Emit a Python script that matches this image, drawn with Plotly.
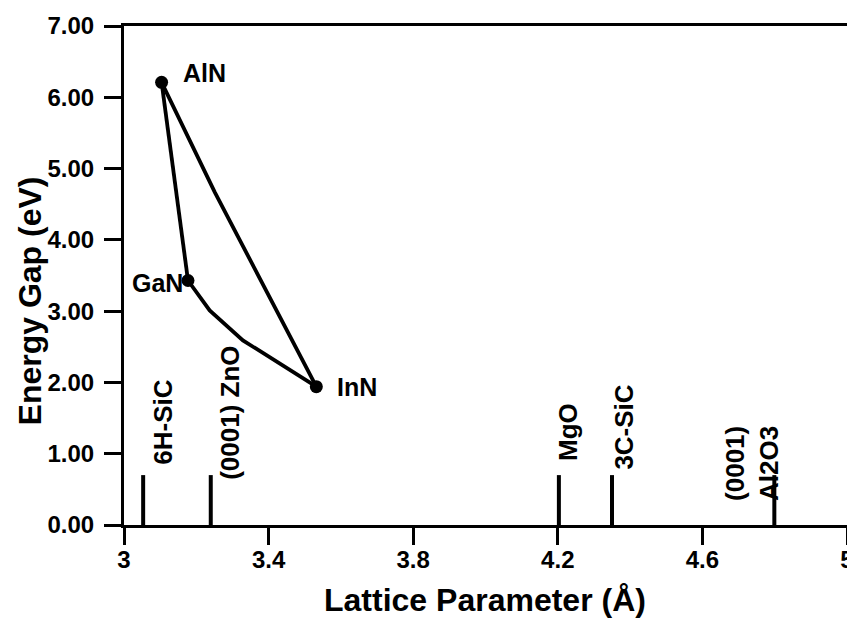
import plotly.graph_objects as go

# ---- data ----
compounds = ["AlN", "GaN", "InN"]
lattice_a = [3.104, 3.177, 3.532]
energy_gap = [6.21, 3.43, 1.94]

# ternary alloy curves
algan_x = [3.104, 3.177]
algan_y = [6.21, 3.43]
alinn_x = [3.104, 3.251, 3.532]
alinn_y = [6.21, 4.67, 1.94]
ingan_x = [3.177, 3.237, 3.329, 3.532]
ingan_y = [3.43, 3.01, 2.59, 1.94]

# substrates
substrates = ["6H-SiC", "(0001) ZnO", "MgO", "3C-SiC", "(0001)<br>Al2O3"]
substrate_a = [3.053, 3.240, 4.203, 4.350, 4.799]
substrate_mark = [0.7, 0.7, 0.7, 0.7, 0.7]

x_ticks = [3, 3.4, 3.8, 4.2, 4.6, 5]
x_ticktext = ["3", "3.4", "3.8", "4.2", "4.6", "5"]
y_ticks = [0, 1, 2, 3, 4, 5, 6, 7]

# ---- styling ----
FONT = "Liberation Sans"
sub_shift = [(19, 8), (19, -7), (9, 12), (12, 3), (-23, -28)]
cmp_style = [("left", 19, 9), ("right", -3, -3), ("left", 19, 0)]

fig = go.Figure()

for xs, ys in [(algan_x, algan_y), (alinn_x, alinn_y), (ingan_x, ingan_y)]:
    fig.add_trace(go.Scatter(x=xs, y=ys, mode="lines",
                             line=dict(color="black", width=3.8),
                             showlegend=False, hoverinfo="skip"))

fig.add_trace(go.Scatter(x=lattice_a, y=energy_gap, mode="markers",
                         marker=dict(color="black", size=13),
                         showlegend=False))

bx, by = [], []
for a, h in zip(substrate_a, substrate_mark):
    bx += [a, a, None]
    by += [0, h, None]
fig.add_trace(go.Scatter(x=bx, y=by, mode="lines",
                         line=dict(color="black", width=4),
                         showlegend=False, hoverinfo="skip"))

annotations = []
for name, a, h, (dx, dy) in zip(substrates, substrate_a, substrate_mark, sub_shift):
    annotations.append(dict(x=a, y=h, xref="x", yref="y", text=name,
                            textangle=-90, showarrow=False,
                            xanchor="center", yanchor="bottom",
                            xshift=dx, yshift=dy,
                            font=dict(family=FONT, size=26, color="black", weight="bold")))
for name, a, e, (anc, dx, dy) in zip(compounds, lattice_a, energy_gap, cmp_style):
    annotations.append(dict(x=a, y=e, xref="x", yref="y", text=name,
                            showarrow=False, xanchor=anc, yanchor="middle",
                            xshift=dx, yshift=dy,
                            font=dict(family=FONT, size=25, color="black", weight="bold")))

annotations.append(dict(x=-0.1307, y=0.449, xref="paper", yref="paper",
                        text="Energy Gap (eV)", textangle=-90, showarrow=False,
                        xanchor="center", yanchor="middle",
                        font=dict(family=FONT, size=32, color="black", weight="bold")))
annotations.append(dict(x=0.499, y=-0.15, xref="paper", yref="paper",
                        text="Lattice Parameter (Å)", showarrow=False,
                        xanchor="center", yanchor="middle",
                        font=dict(family=FONT, size=32, color="black", weight="bold")))

fig.update_layout(
    width=847, height=621,
    margin=dict(l=124, r=0, t=26, b=96, autoexpand=False),
    paper_bgcolor="white", plot_bgcolor="white",
    annotations=annotations,
    xaxis=dict(range=[3, 5], tickvals=x_ticks, ticktext=x_ticktext,
               ticks="outside", ticklen=17, tickwidth=3, tickcolor="black",
               showline=True, linewidth=3, linecolor="black", mirror=True,
               showgrid=False, zeroline=False, ticklabeloverflow="allow",
               ticklabelstandoff=-6, automargin=False,
               tickfont=dict(family=FONT, size=24, color="black", weight="bold")),
    yaxis=dict(range=[0, 7], tickvals=y_ticks, tickformat=".2f",
               ticks="outside", ticklen=17, tickwidth=3, tickcolor="black",
               showline=True, linewidth=3, linecolor="black",
               showgrid=False, zeroline=False, ticklabelstandoff=5,
               automargin=False,
               tickfont=dict(family=FONT, size=24, color="black", weight="bold")),
)

fig.write_html("out.html", config={"displayModeBar": False},
               post_script="document.body.style.margin='0px';document.body.style.overflow='hidden';")
